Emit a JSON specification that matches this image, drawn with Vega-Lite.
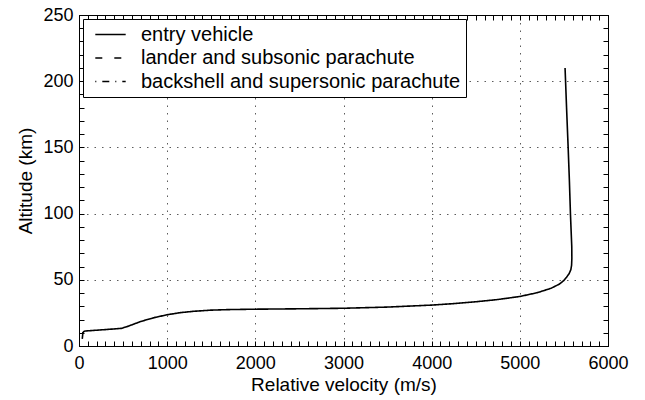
{
  "$schema": "https://vega.github.io/schema/vega-lite/v6.json",
  "width": 529,
  "height": 331,
  "padding": {"left": 79, "top": 15, "right": 37, "bottom": 54},
  "autosize": {"type": "none"},
  "background": "white",
  "config": {
    "font": "Liberation Sans",
    "view": {"stroke": "black", "strokeWidth": 1},
    "axis": {
      "domainColor": "black",
      "tickColor": "black",
      "labelColor": "black",
      "titleColor": "black",
      "labelFont": "Liberation Sans",
      "titleFont": "Liberation Sans",
      "labelFontSize": 18,
      "titleFontSize": 19,
      "titleFontWeight": "normal",
      "labelOverlap": false,
      "labelFlush": false,
      "tickSize": -5,
      "tickWidth": 1
    }
  },
  "data": {
    "values": [
      {"series": "entry vehicle", "v": 5513, "alt": 210},
      {"series": "entry vehicle", "v": 5530, "alt": 180},
      {"series": "entry vehicle", "v": 5548, "alt": 150},
      {"series": "entry vehicle", "v": 5562, "alt": 125},
      {"series": "entry vehicle", "v": 5574, "alt": 100},
      {"series": "entry vehicle", "v": 5583, "alt": 85},
      {"series": "entry vehicle", "v": 5589, "alt": 75},
      {"series": "entry vehicle", "v": 5590, "alt": 66},
      {"series": "entry vehicle", "v": 5587, "alt": 61},
      {"series": "entry vehicle", "v": 5578, "alt": 57.5},
      {"series": "entry vehicle", "v": 5558, "alt": 54.5},
      {"series": "entry vehicle", "v": 5530, "alt": 52},
      {"series": "entry vehicle", "v": 5500, "alt": 49.5},
      {"series": "entry vehicle", "v": 5450, "alt": 46.8},
      {"series": "entry vehicle", "v": 5354, "alt": 43.6},
      {"series": "entry vehicle", "v": 5200, "alt": 40.3},
      {"series": "entry vehicle", "v": 5000, "alt": 37.4},
      {"series": "entry vehicle", "v": 4750, "alt": 35.1},
      {"series": "entry vehicle", "v": 4500, "alt": 33.4},
      {"series": "entry vehicle", "v": 4250, "alt": 32},
      {"series": "entry vehicle", "v": 4000, "alt": 30.9},
      {"series": "entry vehicle", "v": 3500, "alt": 29.4},
      {"series": "entry vehicle", "v": 3000, "alt": 28.5},
      {"series": "entry vehicle", "v": 2500, "alt": 28.1},
      {"series": "entry vehicle", "v": 2000, "alt": 27.8},
      {"series": "entry vehicle", "v": 1700, "alt": 27.5},
      {"series": "entry vehicle", "v": 1500, "alt": 27.1},
      {"series": "entry vehicle", "v": 1300, "alt": 26.2},
      {"series": "entry vehicle", "v": 1150, "alt": 25.2},
      {"series": "entry vehicle", "v": 1000, "alt": 23.6},
      {"series": "entry vehicle", "v": 850, "alt": 21.4},
      {"series": "entry vehicle", "v": 700, "alt": 18.5},
      {"series": "entry vehicle", "v": 560, "alt": 15},
      {"series": "entry vehicle", "v": 480, "alt": 13.3},
      {"series": "entry vehicle", "v": 300, "alt": 12.4},
      {"series": "entry vehicle", "v": 130, "alt": 11.6},
      {"series": "entry vehicle", "v": 70, "alt": 11.3},
      {"series": "entry vehicle", "v": 45, "alt": 10.6},
      {"series": "lander and subsonic parachute", "v": 45, "alt": 10.6},
      {"series": "lander and subsonic parachute", "v": 38, "alt": 6},
      {"series": "lander and subsonic parachute", "v": 30, "alt": 1.5},
      {"series": "backshell and supersonic parachute", "v": 45, "alt": 10.6},
      {"series": "backshell and supersonic parachute", "v": 42, "alt": 8.5}
    ]
  },
  "resolve": {"axis": {"x": "independent", "y": "independent"}},
  "layer": [
    {
      "mark": {"type": "line", "color": "black", "strokeWidth": 1.6},
      "encoding": {
        "x": {
          "field": "v",
          "type": "quantitative",
          "scale": {"domain": [0, 6000], "nice": false, "zero": false},
          "axis": {
            "orient": "bottom",
            "title": "Relative velocity (m/s)",
            "tickCount": 60,
            "labelExpr": "datum.value % 1000 === 0 ? datum.label : ''",
            "format": "d",
            "labelPadding": 13,
            "titlePadding": 3,
            "grid": true,
            "gridColor": "#333333",
            "gridDash": [1.5, 6],
            "gridWidth": 1,
            "gridOpacity": {"condition": {"test": "datum.value % 1000 === 0", "value": 0.8}, "value": 0}
          }
        },
        "y": {
          "field": "alt",
          "type": "quantitative",
          "scale": {"domain": [0, 250], "nice": false, "zero": false},
          "axis": {
            "orient": "left",
            "title": "Altitude (km)",
            "tickCount": 25,
            "labelExpr": "datum.value % 50 === 0 ? datum.label : ''",
            "format": "d",
            "labelPadding": 11,
            "titlePadding": 7,
            "grid": true,
            "gridColor": "#333333",
            "gridDash": [1.5, 6],
            "gridWidth": 1,
            "gridOpacity": {"condition": {"test": "datum.value % 50 === 0", "value": 0.8}, "value": 0}
          }
        },
        "strokeDash": {
          "field": "series",
          "type": "nominal",
          "scale": {
            "domain": ["entry vehicle", "lander and subsonic parachute", "backshell and supersonic parachute"],
            "range": [[1, 0], [7, 12], [1, 6, 7, 6]]
          },
          "legend": {
            "title": null,
            "orient": "top-left",
            "offset": 4,
            "padding": 5,
            "fillColor": "white",
            "strokeColor": "black",
            "symbolType": "M-1.6,0H1.6",
            "symbolSize": 361,
            "symbolOffset": 12,
            "symbolStrokeWidth": 1.5,
            "symbolStrokeColor": "black",
            "symbolFillColor": "transparent",
            "labelFont": "Liberation Sans",
            "labelFontSize": 20,
            "labelColor": "black",
            "labelOffset": 20,
            "labelLimit": 0,
            "rowPadding": 2.5
          }
        },
        "order": {"field": "alt", "sort": "descending"}
      }
    },
    {
      "mark": {"type": "line", "opacity": 0},
      "encoding": {
        "x": {
          "field": "v",
          "type": "quantitative",
          "axis": {
            "orient": "top",
            "title": null,
            "labels": false,
            "tickCount": 60,
            "grid": false
          }
        },
        "y": {
          "field": "alt",
          "type": "quantitative",
          "axis": {
            "orient": "right",
            "title": null,
            "labels": false,
            "tickCount": 25,
            "grid": false
          }
        },
        "detail": {"field": "series"},
        "order": {"field": "alt", "sort": "descending"}
      }
    }
  ]
}
